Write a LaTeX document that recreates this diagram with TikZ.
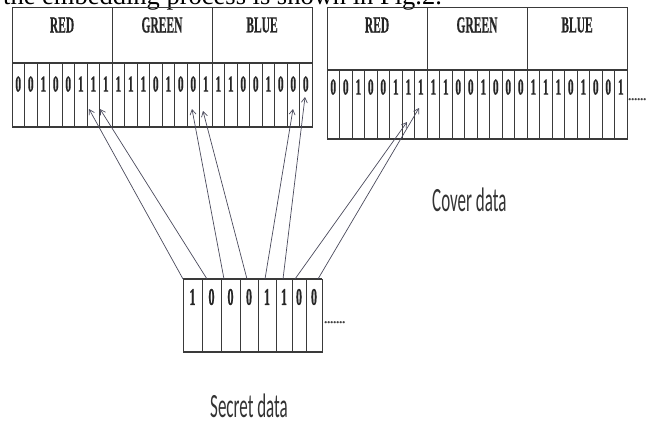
\documentclass[tikz,border=0pt]{standalone}
\usepackage{fontspec}
\usepackage{graphicx}
\setmainfont{Liberation Serif}
\newfontfamily\calib{Carlito}
\newfontfamily\heavy{Liberation Serif}[UprightFont={* Bold}, FakeBold=0.8]
\usetikzlibrary{arrows.meta,calc}
\definecolor{boxline}{HTML}{3A3A3A}
\definecolor{arrowcol}{HTML}{4A4A5C}
\tikzset{
 cell/.style={draw=boxline, line width=0.8pt, inner sep=0pt, outer sep=0pt, anchor=north west},
 bit/.style={font=\heavy\fontsize{11.5}{12}\selectfont, inner sep=0pt, text=black!85},
 head/.style={font=\heavy\fontsize{11.5}{12}\selectfont, inner sep=0pt, text=black!85},
 caption/.style={font=\calib\fontsize{17}{18}\selectfont, inner sep=0pt, text=black!80, anchor=base west},
 dots/.style={font=\heavy\fontsize{12}{12}\selectfont, inner sep=0pt, anchor=base west, text=black!75},
 sep/.style={draw=boxline, line width=1.6pt},
 emb/.style={draw=arrowcol, line width=0.7pt, -{Straight Barb[length=5pt,width=6pt]}},
}
\begin{document}
\begin{tikzpicture}[x=1pt,y=-1pt]
\useasboundingbox (0,0) rectangle (654,426);
\clip (0,0) rectangle (654,426);
% cropped text line at the top
\node[anchor=base west, inner sep=0pt, font=\fontsize{26.5}{28}\selectfont] (toptext) at (3,4) {the embedding process is shown in Fig.2.};

% ---------- left cover box ----------
\foreach \lab [count=\i from 0] in {RED,GREEN,BLUE} {
  \node[cell, minimum width=100pt, minimum height=56pt] (LH\i) at ({12+100*\i},7) {};
  \node[head] (LT\i) at ({62+100*\i},25) {\scalebox{1}[2]{\lab}};
}
\foreach \b [count=\i] in {0,0,1,0,0,1,1,1, 1,1,1,0,1,0,0,1, 1,1,0,0,1,0,0,0} {
  \node[cell, minimum width=12.5pt, minimum height=64pt] (L\i) at ({12+12.5*(\i-1)},63) {};
  \node[bit] (LB\i) at ({12+12.5*(\i-1)+6.25},84) {\scalebox{1}[2]{\b}};
}
\draw[sep] (L1.north west) -- (L24.north east);
\draw[sep] (L1.south west) -- (L24.south east);

% ---------- right cover box ----------
\foreach \lab [count=\i from 0] in {RED,GREEN,BLUE} {
  \node[cell, minimum width=100pt, minimum height=63pt] (RH\i) at ({327+100*\i},7) {};
  \node[head] (RT\i) at ({377+100*\i},25) {\scalebox{1}[2]{\lab}};
}
\foreach \b [count=\i] in {0,0,1,0,0,1,1,1, 1,1,0,0,1,0,0,0, 1,1,1,0,1,0,0,1} {
  \node[cell, minimum width=12.5pt, minimum height=69pt] (R\i) at ({327+12.5*(\i-1)},70) {};
  \node[bit] (RB\i) at ({327+12.5*(\i-1)+6.25},87) {\scalebox{1}[2]{\b}};
}
\draw[sep] (R1.north west) -- (R24.north east);
\draw[sep] (R1.south west) -- (R24.south east);
\node[dots] (rdots) at (628,100) {......};

% ---------- secret box ----------
\foreach \xa/\xb/\b [count=\i] in {183/202/1, 202/221/0, 221/240/0, 240/258/0, 258/276/1, 276/292/1, 292/306/0, 306/322/0} {
  \pgfmathsetmacro\w{\xb-\xa}
  \node[cell, minimum width=\w pt, minimum height=73pt] (S\i) at (\xa,279) {};
  \node[bit, font=\heavy\fontsize{12}{12}\selectfont] (SB\i) at ({(\xa+\xb)/2},297) {\scalebox{1}[2]{\b}};
}
\draw[boxline, line width=1.3pt] (S1.north west) -- (S8.north east);
\draw[boxline, line width=1.3pt] (S1.south west) -- (S8.south east);
\node[dots] (sdots) at (324,323) {.......};

% ---------- embedding arrows ----------
\draw[emb] (S1.north west) -- ($(L7.south west)+(2,-18)$);
\draw[emb] ($(S2.north west)+(5,0)$) -- ($(L8.south west)+(0.5,-18)$);
\draw[emb] ($(S3.north west)+(3,0)$) -- ($(L15.south west)+(5,-18)$);
\draw[emb] ($(S4.north west)+(7,0)$) -- ($(L16.south west)+(3.5,-16)$);
\draw[emb] ($(S5.north west)+(7,0)$) -- ($(L23.south west)+(6,-18)$);
\draw[emb] ($(S6.north west)+(7,0)$) -- ($(L24.south west)+(5.5,-30)$);
\draw[emb] ($(S7.north west)+(3,0)$) -- ($(R7.south west)+(5,-17)$);
\draw[emb] ($(S8.north west)+(12,0)$) -- ($(R8.south west)+(4.5,-31)$);

% ---------- captions ----------
\node[caption] (cover) at (432,211) {\scalebox{1}[2]{Cover data}};
\node[caption] (secret) at (210,417) {\scalebox{1}[2]{Secret data}};
\end{tikzpicture}
\end{document}
